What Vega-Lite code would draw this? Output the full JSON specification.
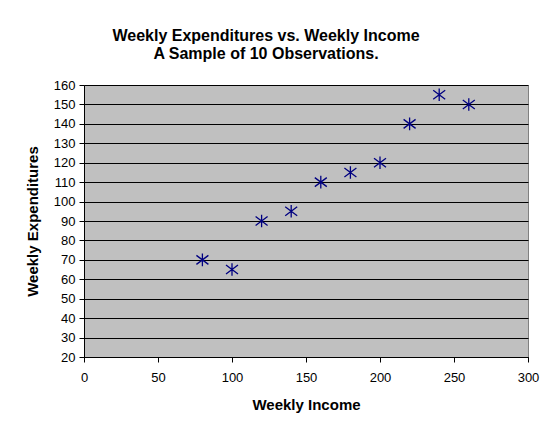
{
  "$schema": "https://vega.github.io/schema/vega-lite/v6.json",
  "width": 444,
  "height": 272,
  "autosize": "none",
  "padding": {"left": 84, "top": 85, "right": 22, "bottom": 71},
  "background": "white",
  "title": {
    "text": ["Weekly Expenditures vs. Weekly Income", "A Sample of 10 Observations."],
    "font": "Liberation Sans",
    "fontSize": 16,
    "fontWeight": "bold",
    "color": "black",
    "lineHeight": 18,
    "anchor": "middle",
    "frame": "group",
    "dx": -40,
    "offset": 17
  },
  "data": {
    "values": [
      {"income": 80, "expenditures": 70},
      {"income": 100, "expenditures": 65},
      {"income": 120, "expenditures": 90},
      {"income": 140, "expenditures": 95},
      {"income": 160, "expenditures": 110},
      {"income": 180, "expenditures": 115},
      {"income": 200, "expenditures": 120},
      {"income": 220, "expenditures": 140},
      {"income": 240, "expenditures": 155},
      {"income": 260, "expenditures": 150}
    ]
  },
  "mark": {
    "type": "point",
    "shape": "M0,-1.05L0,1.05M-1,-0.75L1,0.75M-1,0.75L1,-0.75",
    "filled": false,
    "stroke": "#000080",
    "strokeWidth": 1.3,
    "size": 144,
    "opacity": 1
  },
  "encoding": {
    "x": {
      "field": "income",
      "type": "quantitative",
      "scale": {"domain": [0, 300], "nice": false, "zero": false},
      "axis": {
        "values": [0, 50, 100, 150, 200, 250, 300],
        "grid": false,
        "title": "Weekly Income",
        "titleFont": "Liberation Sans",
        "titleFontSize": 15,
        "titleFontWeight": "bold",
        "titleColor": "black",
        "titlePadding": 13,
        "labelFont": "Liberation Sans",
        "labelFontSize": 13,
        "labelColor": "black",
        "labelPadding": 9,
        "tickColor": "black",
        "tickSize": 5,
        "domainColor": "black",
        "labelFlush": false
      }
    },
    "y": {
      "field": "expenditures",
      "type": "quantitative",
      "scale": {"domain": [20, 160], "nice": false, "zero": false},
      "axis": {
        "values": [20, 30, 40, 50, 60, 70, 80, 90, 100, 110, 120, 130, 140, 150, 160],
        "grid": true,
        "gridColor": "black",
        "gridOpacity": 1,
        "gridWidth": 1,
        "title": "Weekly Expenditures",
        "titleFont": "Liberation Sans",
        "titleFontSize": 15,
        "titleFontWeight": "bold",
        "titleColor": "black",
        "titlePadding": 13,
        "labelFont": "Liberation Sans",
        "labelFontSize": 13,
        "labelColor": "black",
        "labelPadding": 4,
        "tickColor": "black",
        "tickSize": 5,
        "domainColor": "black",
        "labelFlush": false
      }
    }
  },
  "config": {
    "view": {"fill": "#C0C0C0", "stroke": "#808080", "strokeWidth": 1}
  }
}
